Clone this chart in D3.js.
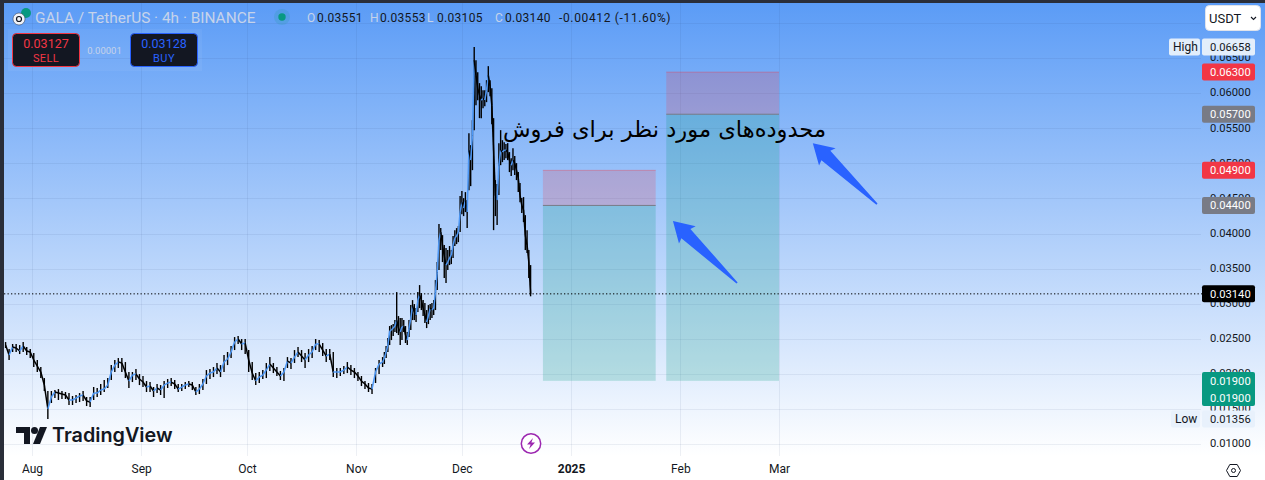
<!DOCTYPE html>
<html lang="en"><head><meta charset="utf-8">
<script src="https://cdnjs.cloudflare.com/ajax/libs/d3/7.8.5/d3.min.js"></script>
<style>html,body{margin:0;padding:0;background:#fff;overflow:hidden}svg{display:block;font-family:Roboto,sans-serif}</style>
</head><body><svg id="c" width="1265" height="480"></svg>
<script>
// Prices below are in hundred-thousandths of a USDT.
const slowCloses=[2410,2268,2382,2368,2325,2396,2325,2311,2197,2111,
2026,1840,1499,1670,1741,1726,1712,1698,1627,1627,
1655,1684,1698,1613,1598,1726,1726,1769,1783,1840,
2026,2125,2168,2154,2026,1897,1983,1997,1926,1883,
1812,1826,1755,1798,1769,1840,1869,1883,1855,1783,
1812,1840,1855,1840,1741,1783,1855,1969,2011,2026,
2083,2026,2168,2211,2311,2453,2496,2425,2439,2197,
2011,1897,1954,1983,2054,2140,2083,2026,1969,2026,
2182,2154,2239,2311,2254,2197,2268,2311,2425,2425,
2339,2254,2282,2026,2026,2026,2054,2097,2054,2026,
1969,1897,1855,1798,1783,2026,2140,2168];
const slowHighs=[2453,2353,2425,2425,2410,2453,2382,2353,2296,2197,
2097,1940,1755,1755,1769,1783,1755,1741,1726,1684,
1698,1726,1755,1670,1670,1812,1798,1855,1912,1940,
2125,2197,2225,2225,2168,2026,2026,2068,1997,1969,
1897,1883,1812,1855,1840,1897,1926,1940,1912,1855,
1855,1883,1897,1883,1812,1855,1926,2054,2068,2097,
2154,2125,2268,2311,2396,2524,2538,2496,2496,2339,
2168,2011,2026,2054,2154,2239,2154,2097,2040,2083,
2239,2225,2339,2382,2339,2296,2353,2396,2496,2481,
2439,2353,2353,2311,2083,2083,2111,2168,2125,2083,
2026,1969,1897,1869,1855,2083,2197,2239];
const slowLows=[2368,2197,2311,2311,2282,2311,2268,2225,2097,2026,
1940,1755,1356,1584,1655,1627,1641,1641,1556,1556,
1584,1598,1613,1541,1527,1627,1670,1698,1741,1798,
1912,2026,2083,2026,1940,1798,1883,1912,1840,1812,
1741,1741,1670,1726,1698,1655,1798,1826,1783,1741,
1755,1783,1812,1769,1698,1712,1769,1855,1926,1954,
1997,1954,2026,2125,2225,2339,2425,2339,2282,2026,
1912,1840,1869,1926,1940,2040,2011,1969,1912,1897,
2083,2068,2154,2239,2168,2083,2168,2225,2339,2311,
2254,2168,2197,1954,1940,1969,1997,2011,1983,1940,
1897,1826,1783,1741,1712,1869,1997,2097];
const fastCloses=[2225,2311,2410,2610,2624,2652,2681,2766,2652,2595,
2667,2681,2553,2481,2652,2795,2966,2880,2838,3051,
3122,3051,2937,2838,2738,2823,2937,2909,2937,3165,
3450,3906,4020,3835,3678,3550,3593,3650,3692,3835,
3934,3963,4020,4305,4447,4362,4476,4305,5188,5046,
5402,6470,6256,6071,5972,5900,5929,5900,6043,6256,
6100,5829,5188,4547,4476,4974,5188,5160,5188,5188,
5160,5046,4974,5046,5003,4903,4789,4547,4405,4333,
3977,3835,3593,3140];
const fastHighs=[2311,2396,2510,2681,2695,2709,2766,3165,2823,2795,
2795,2766,2681,2595,2766,2980,3051,2994,2937,3165,
3265,3151,3051,3009,2909,2980,2994,3009,3051,3336,
3593,4134,4077,3977,3835,3792,3764,3821,3764,3963,
4048,4077,4105,4533,4604,4504,4590,4476,5430,5259,
5615,6658,6470,6299,6143,6100,6043,6043,6185,6385,
6185,6071,5644,4761,4704,5288,5473,5330,5302,5274,
5288,5160,5074,5216,5103,5003,4875,4718,4505,4519,
4262,4048,3764,3550];
const fastLows=[2140,2225,2311,2410,2481,2538,2595,2581,2553,2410,
2481,2595,2439,2410,2524,2624,2766,2766,2738,2880,
2937,2909,2823,2724,2652,2709,2766,2795,2838,2909,
3194,3479,3764,3593,3365,3294,3479,3550,3564,3650,
3821,3849,3877,4020,4276,4248,4305,4077,4618,4675,
4903,5473,5829,5900,5644,5644,5786,5815,5872,6014,
5957,5558,4048,4248,4120,4547,4974,5017,5046,5074,
5046,4875,4818,4903,4832,4761,4590,4447,4291,4162,
3764,3721,3365,3105];
const barDays=d3.range(-7.5,100,1).concat(d3.range(100,142,0.5));

const priceTicks=[0.01,0.015,0.02,0.025,0.03,0.035,0.04,0.045,0.05,0.055,0.06,0.065];
const timeLabels=["Aug","Sep","Oct","Nov","Dec","2025","Feb","Mar"];
const timeTicks=["2024-08-01","2024-09-01","2024-10-01","2024-11-01","2024-12-01","2025-01-01","2025-02-01","2025-03-01"];
const zoneStart=["2024-12-24","2025-01-28"];
const zoneEnd=["2025-01-25","2025-03-01"];
const zoneTop=[0.049,0.063];
const zoneMid=[0.044,0.057];
const zoneBottom=[0.019,0.019];
const arrowTipDay=[181.9,221.6], arrowTipPrice=[0.04177,0.05288];
const arrowTailDay=[200.1,239.8], arrowTailPrice=[0.03294,0.04419];
const lastPrice=0.0314, highPrice=0.06658, lowPrice=0.01356;
const priceTags=[["0.06300","#f23645",0.063],["0.05700","#787b86",0.057],["0.04900","#f23645",0.049],["0.04400","#787b86",0.044]];
const ohlcLabels=["O","H","L","C"], ohlcValues=["0.03551","0.03553","0.03105","0.03140"];
const note="محدوده‌های مورد نظر برای فروش";

const svg=d3.select("#c");
const utc=s=>new Date(s+"T00:00:00Z");
const x=d3.scaleUtc().domain([utc("2024-08-01"),utc("2025-03-01")]).range([32,779]);
const y=d3.scaleLinear().domain([0.01,highPrice]).range([444,47]);
const dayDate=d=>new Date(+utc("2024-08-01")+d*864e5);

const defs=svg.append("defs");
const g=defs.append("linearGradient").attr("id","bg").attr("x1",0).attr("x2",0).attr("y1",0).attr("y2",1);
g.append("stop").attr("offset",0).attr("stop-color","#5a9bf6");
g.append("stop").attr("offset",1).attr("stop-color","#ffffff");
defs.append("clipPath").attr("id","pane").append("rect").attr("x",4).attr("y",3).attr("width",1198).attr("height",452);

svg.append("rect").attr("width",1265).attr("height",480).attr("fill","#fff");
svg.append("rect").attr("x",0).attr("y",0).attr("width",1265).attr("height",456).attr("fill","url(#bg)");
svg.append("rect").attr("x",0).attr("y",0).attr("width",1265).attr("height",3).attr("fill","#2a2e39");
svg.append("rect").attr("x",0).attr("y",0).attr("width",4).attr("height",480).attr("fill","#2a2e39");

// grid
const grid=svg.append("g").attr("stroke","#2a3a78").attr("stroke-opacity",0.08).attr("stroke-width",1);
grid.selectAll(".h").data(priceTicks.concat([0.07])).join("line").attr("x1",4).attr("x2",1201)
 .attr("y1",d=>Math.round(y(d))+.5).attr("y2",d=>Math.round(y(d))+.5);
grid.selectAll(".v").data(timeTicks).join("line").attr("y1",3).attr("y2",456)
 .attr("x1",d=>Math.round(x(utc(d)))+.5).attr("x2",d=>Math.round(x(utc(d)))+.5);

// zones
const zones=svg.append("g");
zoneStart.forEach((s,i)=>{
 const x0=x(utc(s)),w=x(utc(zoneEnd[i]))-x0;
 zones.append("rect").attr("x",x0).attr("width",w).attr("y",y(zoneTop[i])).attr("height",y(zoneMid[i])-y(zoneTop[i])).attr("fill","#f23645").attr("fill-opacity",.2);
 zones.append("rect").attr("x",x0).attr("width",w).attr("y",y(zoneMid[i])).attr("height",y(zoneBottom[i])-y(zoneMid[i])).attr("fill","#089981").attr("fill-opacity",.22);
 zones.append("line").attr("x1",x0).attr("x2",x0+w).attr("y1",y(zoneTop[i])).attr("y2",y(zoneTop[i])).attr("stroke","#f23645").attr("stroke-opacity",.35);
 zones.append("line").attr("x1",x0).attr("x2",x0+w).attr("y1",y(zoneMid[i])).attr("y2",y(zoneMid[i])).attr("stroke","#787b86");
});

// last price line
svg.append("line").attr("x1",4).attr("x2",1202).attr("y1",y(lastPrice)).attr("y2",y(lastPrice))
 .attr("stroke","#000").attr("stroke-width",1).attr("stroke-dasharray","1.3 2.2");

// bars
const closes=slowCloses.concat(fastCloses),highs=slowHighs.concat(fastHighs),lows=slowLows.concat(fastLows);
const bars=barDays.map((d,i)=>({t:dayDate(d),c:closes[i]/1e5,h:highs[i]/1e5,l:lows[i]/1e5,o:(i?closes[i-1]:closes[0])/1e5}));
const chart=svg.append("g").attr("clip-path","url(#pane)");
chart.selectAll(".w").data(bars).join("line").attr("x1",d=>x(d.t)).attr("x2",d=>x(d.t))
 .attr("y1",d=>y(d.h)).attr("y2",d=>y(d.l)).attr("stroke","#000").attr("stroke-width",1.4);
chart.selectAll(".s").data(bars.slice(1)).join("line")
 .attr("x1",(d,i)=>x(bars[i].t)).attr("x2",d=>x(d.t)).attr("y1",d=>y(d.o)).attr("y2",d=>y(d.c))
 .attr("stroke",d=>d.c>=d.o?"#4c97f5":"#000").attr("stroke-width",1.5);

// note
svg.append("text").attr("x",664.5).attr("y",137).attr("text-anchor","middle").attr("direction","rtl")
 .attr("font-family","'DejaVu Sans',sans-serif").attr("font-size",22.6).attr("fill","#000").text(note);

// arrows
arrowTipDay.forEach((_,i)=>{
 const tx=x(dayDate(arrowTipDay[i])),ty=y(arrowTipPrice[i]),ex=x(dayDate(arrowTailDay[i])),ey=y(arrowTailPrice[i]);
 const L=Math.hypot(ex-tx,ey-ty),ux=(ex-tx)/L,uy=(ey-ty)/L,nx=-uy,ny=ux;
 const p=(a,b)=>[tx+ux*a+nx*b,ty+uy*a+ny*b];
 const pts=[p(0,0),p(20,-12),p(18,-6.5),p(L,-.8),p(L,.8),p(18,6.5),p(20,12)];
 svg.append("path").attr("d",d3.line()(pts)+"Z").attr("fill","#2962ff");
});

// axes
const yAxis=d3.axisRight(y).tickValues(priceTicks).tickSize(0).tickPadding(0).tickFormat(d=>d.toFixed(5));
const ya=svg.append("g").attr("transform","translate(1210,-0.8)").call(yAxis);
ya.select(".domain").remove();
ya.selectAll("text").attr("font-size",11.2).attr("font-family","Roboto,sans-serif").attr("fill","#131722");
const xAxis=d3.axisBottom(x).tickValues(timeTicks.map(utc)).tickSize(0).tickPadding(0).tickFormat((d,i)=>timeLabels[i]);
const xa=svg.append("g").attr("transform","translate(0,464.5)").call(xAxis);
xa.select(".domain").remove();
xa.selectAll("text").attr("font-size",12).attr("font-family","Roboto,sans-serif").attr("fill","#131722")
 .attr("font-weight",(d,i)=>timeLabels[i]==="2025"?700:400);

// price tags
function tag(v,fill,col,yy){
 const p=yy===undefined?y(v[2]):yy;
 svg.append("rect").attr("x",1202).attr("y",p-8.5).attr("width",53).attr("height",17).attr("rx",2).attr("fill",fill);
 svg.append("text").attr("x",1210).attr("y",p+4).attr("font-size",11.2).attr("fill",col).text(v[0]);
}
svg.append("rect").attr("x",1202).attr("y",372).attr("width",53).attr("height",34).attr("rx",2).attr("fill","#089981");
priceTags.forEach(t=>tag(t,t[1],"#fff"));
tag(["0.03140"],"#000","#fff",y(lastPrice));
[381,397.5].forEach(p=>svg.append("text").attr("x",1210).attr("y",p+4).attr("font-size",11.2).attr("fill","#fff").text(zoneBottom[0].toFixed(5)));
tag([highPrice.toFixed(5)],"#e3eefb","#131722",47);
svg.append("rect").attr("x",1169).attr("y",38.5).attr("width",31).attr("height",17).attr("rx",2).attr("fill","#e3eefb");
svg.append("text").attr("x",1173).attr("y",51).attr("font-size",12).attr("fill","#131722").text("High");
tag([lowPrice.toFixed(5)],"#e8f1fc","#131722",y(lowPrice));
svg.append("rect").attr("x",1171).attr("y",y(lowPrice)-8.5).attr("width",29).attr("height",17).attr("rx",2).attr("fill","#e8f1fc");
svg.append("text").attr("x",1175).attr("y",y(lowPrice)+4.2).attr("font-size",12).attr("fill","#131722").text("Low");

// USDT button
svg.append("rect").attr("x",1205.5).attr("y",5.5).attr("width",55).attr("height",25).attr("rx",4).attr("fill","#fff").attr("stroke","#e0e3eb");
svg.append("text").attr("x",1209).attr("y",23).attr("font-size",13).attr("fill","#131722").text("USDT");
svg.append("path").attr("d","M1251 17l2.5 2.5 2.5-2.5").attr("fill","none").attr("stroke","#131722").attr("stroke-width",1.1);

// header
svg.append("circle").attr("cx",26).attr("cy",13).attr("r",5).attr("fill","#089981");
svg.append("circle").attr("cx",19).attr("cy",19).attr("r",6).attr("fill","#f0f3fa").attr("stroke","#2a2e39").attr("stroke-width",.5);
svg.append("circle").attr("cx",19).attr("cy",19).attr("r",2.5).attr("fill","none").attr("stroke","#131722").attr("stroke-width",1.2);
svg.append("text").attr("x",35).attr("y",23).attr("font-size",15.4).attr("fill","#c6d3ea").text("GALA / TetherUS · 4h · BINANCE");
svg.append("circle").attr("cx",282).attr("cy",17).attr("r",8).attr("fill","#089981").attr("fill-opacity",.15);
svg.append("circle").attr("cx",282).attr("cy",17).attr("r",3.7).attr("fill","#089981");
[307,370,427,495].forEach((px,i)=>{
 svg.append("text").attr("x",px).attr("y",22).attr("font-size",12).attr("fill","#c6d3ea").text(ohlcLabels[i]);
 svg.append("text").attr("x",px+10).attr("y",22).attr("font-size",12).attr("fill","#131722").attr("letter-spacing",.3).text(ohlcValues[i]);
});
svg.append("text").attr("x",559).attr("y",22).attr("font-size",12).attr("fill","#131722").attr("letter-spacing",.65).text("-0.00412 (-11.60%)");

svg.append("rect").attr("x",8).attr("y",29).attr("width",194).attr("height",42).attr("fill","#fff").attr("fill-opacity",.05);
[[12.5,"#f23645","0.03127","SELL"],[130.5,"#2962ff","0.03128","BUY"]].forEach(b=>{
 svg.append("rect").attr("x",b[0]).attr("y",33.5).attr("width",67).attr("height",33).attr("rx",4).attr("fill","#131722").attr("stroke",b[1]);
 svg.append("text").attr("x",b[0]+33.5).attr("y",48).attr("text-anchor","middle").attr("font-size",12.5).attr("fill",b[1]).text(b[2]);
 svg.append("text").attr("x",b[0]+33.5).attr("y",62).attr("text-anchor","middle").attr("font-size",11).attr("fill",b[1]).attr("letter-spacing",.4).text(b[3]);
});
svg.append("text").attr("x",104.5).attr("y",54).attr("text-anchor","middle").attr("font-size",9.5).attr("fill","#c6d3ea").text("0.00001");

// logo
const logo=svg.append("g").attr("fill","#131722");
logo.append("path").attr("d","M16 427h14v17h-6v-11h-8z");
logo.append("circle").attr("cx",34.5).attr("cy",430.5).attr("r",3.5);
logo.append("path").attr("d","M40 427h7l-7 17h-7z");
svg.append("text").attr("x",52).attr("y",442).attr("font-family","Inter,sans-serif").attr("font-weight",600).attr("font-size",19.8).attr("fill","#131722").text("TradingView");

// flash badge
svg.append("circle").attr("cx",531).attr("cy",443.5).attr("r",9.7).attr("fill","#fff").attr("stroke","#9c27b0").attr("stroke-width",1.5);
svg.append("path").attr("d","M533 438l-6 6.5h3.6l-1.6 4.5 6-6.5h-3.6z").attr("fill","#9c27b0");

// settings icon
svg.append("path").attr("d","M1226.5 470.5l3.3-6h7.4l3.3 6-3.3 6h-7.4z").attr("fill","none").attr("stroke","#131722");
svg.append("circle").attr("cx",1233.5).attr("cy",470.5).attr("r",2).attr("fill","none").attr("stroke","#131722");
</script></body></html>
